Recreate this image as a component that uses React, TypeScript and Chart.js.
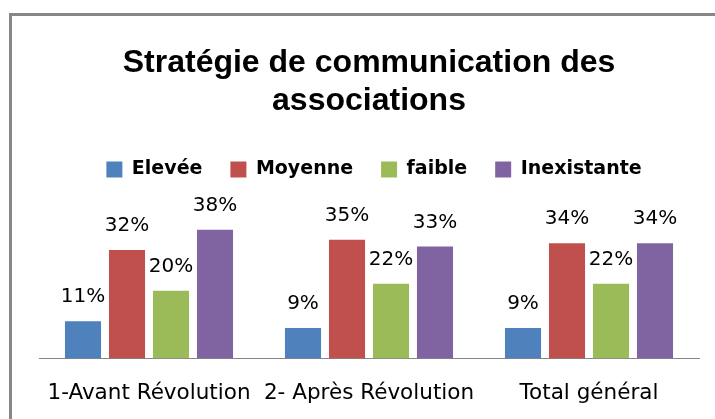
import React, { useEffect, useRef } from "react";
import { Chart, registerables } from "chart.js";

Chart.register(...registerables);

const categories = ["1-Avant Révolution", "2- Après Révolution", "Total général"];
const seriesNames = ["Elevée", "Moyenne", "faible", "Inexistante"];
const elevee = [11, 9, 9];
const moyenne = [32, 35, 34];
const faible = [20, 22, 22];
const inexistante = [38, 33, 34];
const seriesColors = ["#4F81BD", "#C0504D", "#9BBB59", "#8064A2"];
const titleLines = ["Stratégie de communication des", "associations"];

const valueLabels = {
  id: "valueLabels",
  afterDatasetsDraw(chart: any) {
    const ctx = chart.ctx;
    ctx.save();
    ctx.font = "20px 'DejaVu Sans'";
    ctx.fillStyle = "#000000";
    ctx.textAlign = "center";
    ctx.textBaseline = "alphabetic";
    chart.data.datasets.forEach((ds: any, i: number) => {
      const meta = chart.getDatasetMeta(i);
      meta.data.forEach((bar: any, j: number) => {
        ctx.fillText(ds.data[j] + "%", bar.x, bar.y - 19);
      });
    });
    ctx.restore();
  },
};

const legendShift = {
  id: "legendShift",
  afterLayout(chart: any) {
    if (chart.legend) {
      chart.legend.left += 5;
      chart.legend.right += 5;
    }
  },
};

export default function App() {
  const ref = useRef<HTMLCanvasElement>(null);
  useEffect(() => {
    if (!ref.current) return;
    const allSeries = [elevee, moyenne, faible, inexistante];
    const chart = new Chart(ref.current, {
      type: "bar",
      data: {
        labels: categories,
        datasets: allSeries.map((d, i) => ({
          label: seriesNames[i],
          data: d,
          backgroundColor: seriesColors[i],
          borderWidth: 0,
          categoryPercentage: 0.8,
          barPercentage: 0.82,
        })),
      },
      options: {
        responsive: false,
        animation: false,
        layout: { padding: { left: 39, right: 16, top: 0, bottom: 0.8 } },
        plugins: {
          title: {
            display: true,
            text: titleLines,
            color: "#000000",
            font: { family: "'Liberation Sans'", size: 32, weight: "bold", lineHeight: 1.1875 },
            padding: { top: 44, bottom: 12 },
          },
          legend: {
            display: true,
            position: "top",
            labels: {
              color: "#000000",
              font: { family: "'DejaVu Sans'", size: 19, weight: "bold" },
              boxWidth: 16,
              boxHeight: 16,
              padding: 28,
            },
          },
          tooltip: { enabled: false },
        },
        scales: {
          x: {
            grid: { display: false, drawTicks: false },
            border: { display: true, color: "#868686", width: 1 },
            ticks: {
              color: "#000000",
              font: { family: "'DejaVu Sans'", size: 21.5, lineHeight: 1.2 },
              padding: 22,
              maxRotation: 0,
              autoSkip: false,
            },
          },
          y: {
            display: false,
            min: 0,
            max: 50,
          },
        },
      },
      plugins: [valueLabels, legendShift],
    });
    return () => chart.destroy();
  }, []);

  return (
    <div style={{ position: "fixed", left: 0, top: 0, width: 715, height: 419, overflow: "hidden", background: "#ffffff" }}>
      <div
        style={{
          position: "absolute",
          left: 9,
          top: 13,
          width: 720,
          height: 420,
          borderTop: "3px solid #878787",
          borderLeft: "3px solid #878787",
        }}
      />
      <canvas ref={ref} width={715} height={429} style={{ position: "absolute", left: 0, top: 0 }} />
    </div>
  );
}
